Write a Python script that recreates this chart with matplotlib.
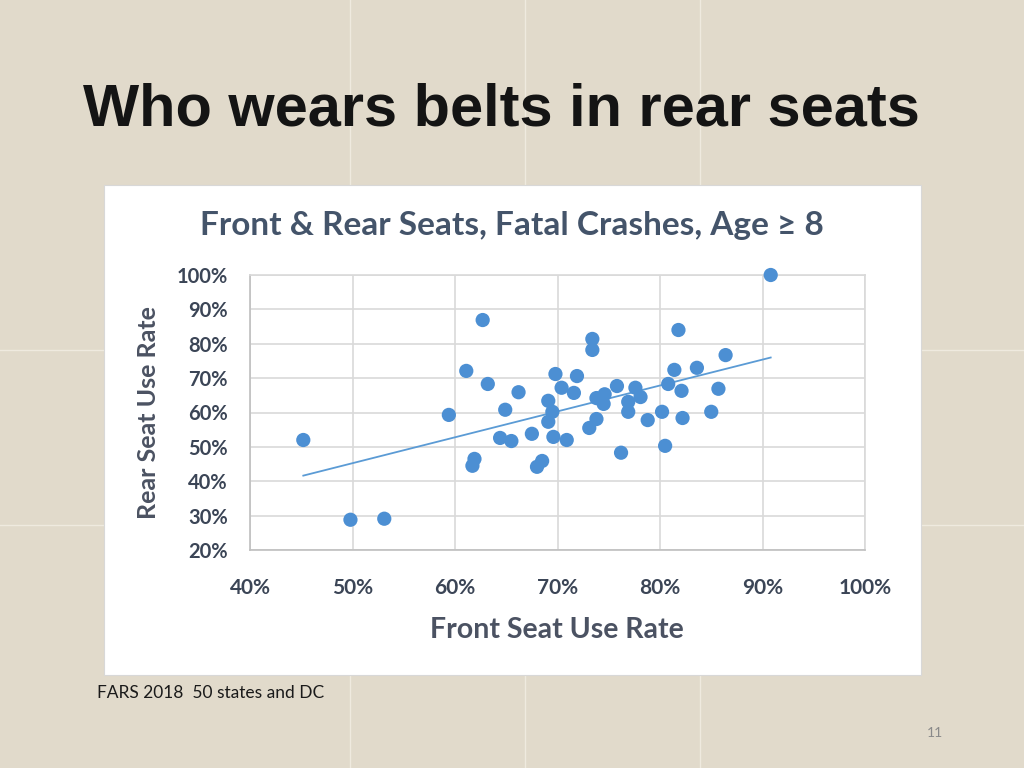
import numpy as np
import matplotlib.pyplot as plt
from matplotlib.patches import Rectangle
from matplotlib.ticker import FixedLocator

# front seat use rate (%) / rear seat use rate (%), 50 states + DC
front = [45.2, 49.8, 53.1, 59.4, 61.1, 62.7, 63.2, 61.9, 61.7, 64.4,
         64.9, 65.5, 66.2, 67.5, 68.0, 68.5, 69.1, 69.1, 69.5, 69.6,
         69.8, 70.4, 70.9, 71.6, 71.9, 73.1, 73.4, 73.4, 73.8, 73.8,
         74.6, 74.5, 75.8, 76.2, 76.9, 76.9, 77.6, 78.1, 78.8, 80.2,
         80.5, 80.8, 81.4, 81.8, 82.1, 82.2, 83.6, 85.0, 85.7, 86.4,
         90.8]
rear = [52.0, 28.8, 29.1, 59.3, 72.1, 86.9, 68.3, 46.5, 44.5, 52.6,
        60.8, 51.7, 65.9, 53.8, 44.2, 45.9, 63.4, 57.3, 60.2, 52.9,
        71.2, 67.2, 52.0, 65.7, 70.6, 55.5, 81.4, 78.2, 58.1, 64.2,
        65.3, 62.5, 67.7, 48.3, 63.1, 60.2, 67.2, 64.5, 57.8, 60.2,
        50.3, 68.3, 72.4, 84.0, 66.3, 58.4, 73.0, 60.2, 66.9, 76.7,
        100.0]

x_ticks = [40, 50, 60, 70, 80, 90, 100]
y_ticks = [20, 30, 40, 50, 60, 70, 80, 90, 100]

slide_title = "Who wears belts in rear seats"
chart_title = "Front & Rear Seats, Fatal Crashes, Age \u2265 8"
x_label = "Front Seat Use Rate"
y_label = "Rear Seat Use Rate"
footnote = "FARS 2018  50 states and DC"
page_no = "11"

W, H = 1024, 768


def px(x, y):
    return x / W, 1 - y / H


fig = plt.figure(figsize=(W / 100, H / 100), dpi=100)
fig.patch.set_facecolor('#e1dacb')

# faint seams of the slide texture tiles
for xs in [350, 525, 700]:
    fig.add_artist(plt.Line2D([xs / W, xs / W], [0, 1], color='#efeadf', lw=1.0, zorder=0))
for ys in [350, 525]:
    fig.add_artist(plt.Line2D([0, 1], [1 - ys / H, 1 - ys / H], color='#efeadf', lw=1.0, zorder=0))

# white chart area
x0, y0 = px(104, 675)
fig.add_artist(Rectangle((x0, y0), (921 - 104) / W, (675 - 185) / H,
                         facecolor='white', edgecolor='#d8d8d8', lw=0.8, zorder=1))

fig.text(*px(83, 110), slide_title, fontsize=42.8, fontweight='bold',
         family=['Liberation Sans', 'DejaVu Sans'], color='#141414', va='center', ha='left')

fig.text(*px(512, 226), chart_title, fontsize=24, fontweight='bold',
         family=['Lato', 'DejaVu Sans'], color='#44546a', va='center', ha='center')

ax = fig.add_axes([250 / W, 1 - 550 / H, (865 - 250) / W, (550 - 275) / H])
ax.set_facecolor('none')
ax.set_zorder(2)

ax.scatter(front, rear, s=105, color='#4c8fd3', edgecolors='none', zorder=3, clip_on=False)

coef = np.polyfit(front, rear, 1)
xl = np.array([min(front), max(front)])
ax.plot(xl, np.polyval(coef, xl), color='#5b9bd5', lw=1.3, zorder=2)

ax.set_xlim(40, 100)
ax.set_ylim(20, 100)
ax.xaxis.set_major_locator(FixedLocator(x_ticks))
ax.yaxis.set_major_locator(FixedLocator(y_ticks))
ax.set_xticklabels([f'{t}%' for t in x_ticks])
ax.set_yticklabels([f'{t}%' for t in y_ticks])
ax.grid(True, color='#d9d9d9', lw=1.2, zorder=0)
ax.set_axisbelow(True)
for s in ['top', 'right']:
    ax.spines[s].set_color('#d9d9d9')
    ax.spines[s].set_linewidth(1.2)
for s in ['left', 'bottom']:
    ax.spines[s].set_color('#bfbfbf')
    ax.spines[s].set_linewidth(1.2)
ax.tick_params(length=0)
ax.tick_params(axis='x', pad=20, labelsize=15, labelcolor='#3b4556')
ax.tick_params(axis='y', pad=16, labelsize=14.5, labelcolor='#3b4556')
for lab in ax.get_xticklabels() + ax.get_yticklabels():
    lab.set_family(['Lato', 'DejaVu Sans'])
    lab.set_fontweight('bold')

fig.text(*px(557, 630), x_label, fontsize=20.5, fontweight='bold',
         family=['Lato', 'DejaVu Sans'], color='#4b5262', va='center', ha='center')
fig.text(*px(148, 413), y_label, fontsize=18, fontweight='bold', rotation=90,
         family=['Lato', 'DejaVu Sans'], color='#4b5262', va='center', ha='center')

fig.text(*px(97, 693), footnote, fontsize=12.5, family=['Lato', 'DejaVu Sans'],
         color='#1a1a1a', va='center', ha='left')
fig.text(*px(935, 733), page_no, fontsize=10, family=['Lato', 'DejaVu Sans'],
         color='#8a8a8a', va='center', ha='center')

fig.savefig('out.png', dpi=100, facecolor=fig.get_facecolor())
